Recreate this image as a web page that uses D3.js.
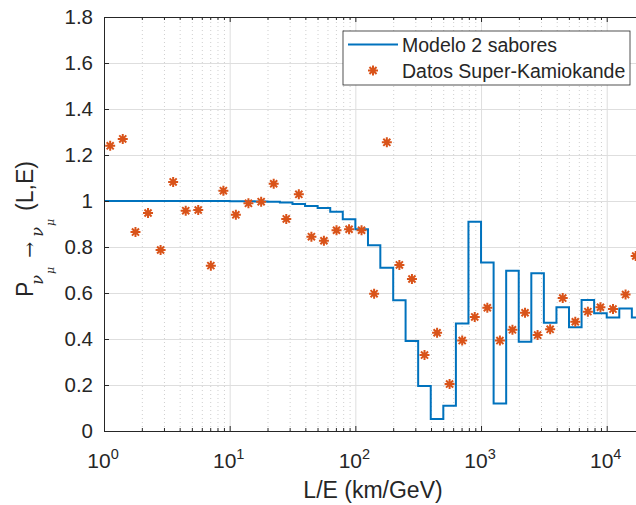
<!DOCTYPE html>
<html>
<head>
<meta charset="utf-8">
<script src="https://cdn.jsdelivr.net/npm/d3@7"></script>
<style>
  body { margin: 0; background: #fff; }
  text { font-family: "Liberation Sans", Arial, sans-serif; fill: #262626; }
</style>
</head>
<body>
<div id="chart"></div>
<script>
// L/E bin edges (km/GeV) used by the stairs model
const binEdges = [1, 1.26, 1.58, 2, 2.51, 3.16, 3.98, 5.01, 6.31, 7.94,
  10, 12.6, 15.8, 20, 25.1, 31.6, 39.8, 50.1, 63.1, 79.4,
  100, 126, 158, 200, 251, 316, 398, 501, 631, 794,
  1000, 1259, 1585, 1995, 2512, 3162, 3981, 5012, 6310, 7943,
  10000, 12589, 15849, 19953];

// model probability per bin
const modelValues = [1.0, 1.0, 1.0, 1.0, 1.0, 1.0, 1.0, 1.0, 1.0, 1.0,
  0.999, 0.999, 0.998, 0.997, 0.994, 0.987, 0.978, 0.970, 0.953, 0.921,
  0.877, 0.808, 0.710, 0.568, 0.391, 0.196, 0.052, 0.110, 0.467, 0.910,
  0.733, 0.120, 0.697, 0.388, 0.686, 0.471, 0.538, 0.451, 0.570, 0.512,
  0.493, 0.533, 0.493];

// Super-Kamiokande points
const dataLE = [1.12, 1.41, 1.78, 2.24, 2.82, 3.55, 4.47, 5.62, 7.08, 8.91,
  11.2, 14.1, 17.8, 22.4, 28.2, 35.5, 44.7, 56.2, 70.8, 89.1,
  112, 141, 178, 224, 282, 355, 447, 562, 708, 891,
  1122, 1413, 1778, 2239, 2818, 3548, 4467, 5623, 7079, 8913,
  11220, 14125, 17000];
const dataP = [1.240, 1.270, 0.865, 0.948, 0.787, 1.083, 0.958, 0.961, 0.719, 1.045,
  0.940, 0.990, 0.997, 1.075, 0.922, 1.029, 0.845, 0.827, 0.873, 0.877,
  0.873, 0.597, 1.255, 0.722, 0.661, 0.330, 0.427, 0.204, 0.393, 0.496,
  0.536, 0.393, 0.440, 0.514, 0.417, 0.442, 0.578, 0.475, 0.519, 0.538,
  0.530, 0.593, 0.761];

const xDecades = [1, 10, 100, 1000, 10000];
const xExponents = ["0", "1", "2", "3", "4"];
const yTicks = [0, 0.2, 0.4, 0.6, 0.8, 1, 1.2, 1.4, 1.6, 1.8];

const legendLabels = ["Modelo 2 sabores", "Datos Super-Kamiokande"];

const blue = "#0072BD";
const orange = "#D95319";
const axisColor = "#262626";

const plotLeft = 104, plotRight = 640, plotTop = 17, plotBottom = 431;

const svg = d3
  .select("#chart")
  .append("svg")
  .attr("width", 636)
  .attr("height", 505);

// Scales
const x = d3.scaleLog().domain([1, 18400]).range([plotLeft, plotRight]);
const y = d3.scaleLinear().domain([0, 1.8]).range([plotBottom, plotTop]);

const minorTicks = [];
xDecades.forEach((d) => {
  for (let m = 2; m <= 9; m++) if (d * m < 18400) minorTicks.push(d * m);
});

svg.append("clipPath").attr("id", "plot-clip")
  .append("rect")
  .attr("x", plotLeft).attr("y", plotTop)
  .attr("width", plotRight - plotLeft).attr("height", plotBottom - plotTop);

// Grid lines
svg.append("g")
  .attr("transform", `translate(0,${plotBottom})`)
  .call(d3.axisBottom(x).tickValues(minorTicks).tickSize(-(plotBottom - plotTop)).tickFormat(""))
  .call((g) => g.select(".domain").remove())
  .selectAll("line")
  .attr("stroke", "#cfcfcf")
  .attr("stroke-dasharray", "1,3");

svg.append("g")
  .attr("transform", `translate(0,${plotBottom})`)
  .call(d3.axisBottom(x).tickValues(xDecades).tickSize(-(plotBottom - plotTop)).tickFormat(""))
  .call((g) => g.select(".domain").remove())
  .selectAll("line")
  .attr("stroke", "#dedede");

svg.append("g")
  .attr("transform", `translate(${plotLeft},0)`)
  .call(d3.axisLeft(y).tickValues(yTicks).tickSize(-(plotRight - plotLeft)).tickFormat(""))
  .call((g) => g.select(".domain").remove())
  .selectAll("line")
  .attr("stroke", "#dedede");

// Model stairs
const stairs = binEdges.map((e, i) => [e, modelValues[Math.min(i, modelValues.length - 1)]]);
svg.append("path")
  .datum(stairs)
  .attr("clip-path", "url(#plot-clip)")
  .attr("fill", "none")
  .attr("stroke", blue)
  .attr("stroke-width", 2)
  .attr("d", d3.line().x((d) => x(d[0])).y((d) => y(d[1])).curve(d3.curveStepAfter));

// Asterisk marker (MATLAB '*')
const star = (r) => {
  const p = d3.path();
  const k = r * Math.SQRT1_2;
  p.moveTo(-r, 0); p.lineTo(r, 0);
  p.moveTo(0, -r); p.lineTo(0, r);
  p.moveTo(-k, -k); p.lineTo(k, k);
  p.moveTo(-k, k); p.lineTo(k, -k);
  return p.toString();
};

svg.append("g")
  .attr("clip-path", "url(#plot-clip)")
  .selectAll(".pt")
  .data(dataLE)
  .enter()
  .append("path")
  .attr("class", "pt")
  .attr("transform", (d, i) => `translate(${x(d)},${y(dataP[i])})`)
  .attr("d", star(5))
  .attr("fill", "none")
  .attr("stroke", orange)
  .attr("stroke-width", 2);

// Axes
const bottomAxis = svg.append("g").attr("class", "axis").attr("transform", `translate(0,${plotBottom})`);
bottomAxis.call(d3.axisBottom(x).tickValues(xDecades).tickSizeInner(-5).tickSizeOuter(0).tickFormat(""));
bottomAxis.append("g")
  .call(d3.axisBottom(x).tickValues(minorTicks).tickSizeInner(-3).tickSizeOuter(0).tickFormat(""))
  .call((g) => g.select(".domain").remove());

const topAxis = svg.append("g").attr("class", "axis").attr("transform", `translate(0,${plotTop})`);
topAxis.call(d3.axisTop(x).tickValues(xDecades).tickSizeInner(-5).tickSizeOuter(0).tickFormat(""));
topAxis.append("g")
  .call(d3.axisTop(x).tickValues(minorTicks).tickSizeInner(-3).tickSizeOuter(0).tickFormat(""))
  .call((g) => g.select(".domain").remove());

svg.append("g")
  .attr("class", "axis")
  .attr("transform", `translate(${plotLeft},0)`)
  .call(d3.axisLeft(y).tickValues(yTicks).tickSizeInner(-5).tickSizeOuter(0).tickPadding(11)
    .tickFormat((d) => String(+d.toFixed(1))))
  .selectAll("text")
  .style("font-size", "20.5px")
  .style("font-family", "'Liberation Sans', Arial, sans-serif")
  .attr("fill", axisColor);

svg.selectAll(".axis .domain, .axis .tick line").attr("stroke", axisColor);

// x tick labels 10^n
const xLabels = svg.append("g")
  .selectAll("text")
  .data(xDecades)
  .enter()
  .append("text")
  .attr("x", (d) => x(d) - 1)
  .attr("y", 468)
  .attr("text-anchor", "middle");
xLabels.append("tspan").style("font-size", "21px").text("10");
xLabels.append("tspan").style("font-size", "14.5px").attr("dy", -9).text((d, i) => xExponents[i]);

// Axis labels
svg.append("text")
  .attr("x", 373)
  .attr("y", 498)
  .attr("text-anchor", "middle")
  .style("font-size", "23px")
  .text("L/E (km/GeV)");

const yLabel = svg.append("text")
  .attr("transform", "translate(33,297) rotate(-90)")
  .style("font-size", "23px");
yLabel.append("tspan").text("P");
const greek = "'DejaVu Serif', 'Liberation Serif', serif";
yLabel.append("tspan").attr("dx", -3).attr("dy", 10)
  .style("font-size", "16px").style("font-style", "italic").style("font-family", greek).text("ν");
yLabel.append("tspan").attr("dx", 1).attr("dy", 11)
  .style("font-size", "11px").style("font-style", "italic").style("font-family", greek).text("μ");
yLabel.append("tspan").attr("dx", 9).attr("dy", -18)
  .style("font-size", "19px").style("font-family", greek).text("→");
yLabel.append("tspan").attr("dx", 5).attr("dy", 7)
  .style("font-size", "16px").style("font-style", "italic").style("font-family", greek).text("ν");
yLabel.append("tspan").attr("dx", 1).attr("dy", 11)
  .style("font-size", "11px").style("font-style", "italic").style("font-family", greek).text("μ");
yLabel.append("tspan").attr("dx", 8).attr("dy", -21).text("(L,E)");

// Legend
const legend = svg.append("g");
legend.append("rect")
  .attr("x", 343).attr("y", 31)
  .attr("width", 287).attr("height", 54)
  .attr("fill", "#fff")
  .attr("stroke", axisColor)
  .attr("stroke-width", 0.8);
legend.append("line")
  .attr("x1", 348).attr("x2", 398)
  .attr("y1", 44.5).attr("y2", 44.5)
  .attr("stroke", blue)
  .attr("stroke-width", 2);
legend.append("path")
  .attr("transform", "translate(373,70.5)")
  .attr("d", star(5))
  .attr("fill", "none")
  .attr("stroke", orange)
  .attr("stroke-width", 2);
legend.selectAll(".lt")
  .data(legendLabels)
  .enter()
  .append("text")
  .attr("class", "lt")
  .attr("x", 402)
  .attr("y", (d, i) => 52 + i * 26)
  .style("font-size", "19.5px")
  .text((d) => d);
</script>
</body>
</html>
